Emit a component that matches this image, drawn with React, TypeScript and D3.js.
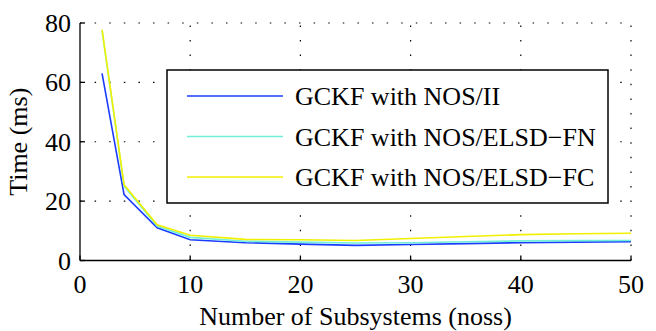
import React from "react";
import * as d3 from "d3";

const xValues = [2, 4, 7, 10, 15, 20, 25, 30, 35, 40, 45, 50];
const seriesII = [63.0, 22.2, 11.0, 7.0, 6.0, 5.5, 5.1, 5.4, 5.7, 6.0, 6.2, 6.3];
const seriesFN = [77.5, 25.0, 11.6, 7.8, 6.5, 6.2, 5.9, 6.0, 6.3, 6.6, 6.7, 6.75];
const seriesFC = [77.8, 25.5, 12.0, 8.5, 7.1, 7.0, 6.75, 7.4, 8.1, 8.7, 9.0, 9.2];
const seriesNames = ["GCKF with NOS/II", "GCKF with NOS/ELSD\u2212FN", "GCKF with NOS/ELSD\u2212FC"];
const seriesColors = ["#1a3cff", "#70f0d8", "#f0f000"];
const xTicks = [0, 10, 20, 30, 40, 50];
const yTicks = [0, 20, 40, 60, 80];

export default function App() {
  const W = 656, H = 331;
  const x = d3.scaleLinear().domain([0, 50]).range([80, 631]);
  const y = d3.scaleLinear().domain([0, 80]).range([260.5, 23]);
  const font = "'Liberation Serif', 'Times New Roman', serif";
  const allSeries = [seriesII, seriesFN, seriesFC];
  const line = d3.line<number>().x((_, i) => x(xValues[i])).y((d) => y(d));
  const dash = "1.5 13.1";
  const fs = 26;

  return (
    <svg width={W} height={H} style={{ position: "absolute", left: 0, top: 0, background: "#fff" }} fontFamily={font}>
      {yTicks.filter((t) => t > 0).map((t) => (
        <line key={"gy" + t} x1={x(0)} x2={x(50)} y1={y(t)} y2={y(t)} stroke="#000" strokeWidth={1.2} strokeDasharray={dash} />
      ))}
      {xTicks.filter((t) => t > 0).map((t) => (
        <line key={"gx" + t} x1={x(t)} x2={x(t)} y1={y(0)} y2={y(80)} stroke="#000" strokeWidth={1.2} strokeDasharray={dash} />
      ))}
      {allSeries.map((s, i) => (
        <path key={"s" + i} d={line(s) || ""} fill="none" stroke={seriesColors[i]} strokeWidth={1.6} />
      ))}
      <line x1={x(0)} x2={x(50)} y1={y(0)} y2={y(0)} stroke="#000" strokeWidth={1.3} />
      <line x1={x(0)} x2={x(0)} y1={y(0)} y2={y(80)} stroke="#000" strokeWidth={1.3} />
      {xTicks.map((t) => (
        <g key={"xt" + t}>
          <line x1={x(t)} x2={x(t)} y1={y(0)} y2={y(0) - 5} stroke="#000" strokeWidth={1.3} />
          <text x={x(t)} y={293} textAnchor="middle" fontSize={fs}>{t}</text>
        </g>
      ))}
      {yTicks.map((t) => (
        <g key={"yt" + t}>
          <line x1={x(0)} x2={x(0) + 5} y1={y(t)} y2={y(t)} stroke="#000" strokeWidth={1.3} />
          <text x={71} y={y(t) + 9} textAnchor="end" fontSize={fs}>{t}</text>
        </g>
      ))}
      <text x={(x(0) + x(50)) / 2} y={325} textAnchor="middle" fontSize={fs}>Number of Subsystems (noss)</text>
      <text transform={`translate(27, ${(y(0) + y(80)) / 2}) rotate(-90)`} textAnchor="middle" fontSize={fs}>Time (ms)</text>
      <rect x={167} y={70} width={441} height={133} fill="#fff" stroke="#000" strokeWidth={1.5} />
      {seriesNames.map((n, i) => (
        <g key={"lg" + i}>
          <line x1={187} x2={283} y1={96 + i * 40.5} y2={96 + i * 40.5} stroke={seriesColors[i]} strokeWidth={1.6} />
          <text x={295} y={96 + i * 40.5 + 9} fontSize={fs}>{n}</text>
        </g>
      ))}
    </svg>
  );
}
